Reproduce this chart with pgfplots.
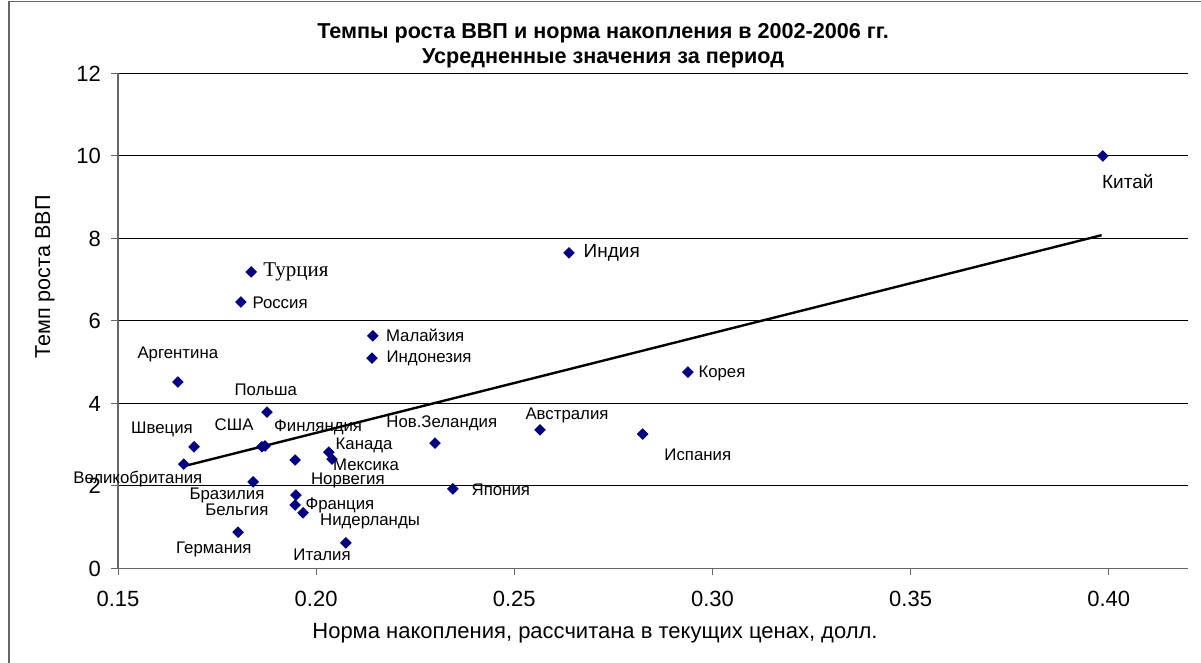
\documentclass[border=0pt]{standalone}
\usepackage{fontspec}
\setmainfont{Liberation Sans}
\newfontfamily\timesf{Liberation Serif}
\usepackage{pgfplots}
\pgfplotsset{compat=1.18}
\definecolor{navy}{HTML}{000080}
\begin{document}
\begin{tikzpicture}[x=1pt,y=1pt, lbl/.style={font=\fontsize{8.4}{10}\selectfont, inner sep=0pt}]
\useasboundingbox (0,0) rectangle (600.5,331.5);
\draw[gray!80!black, line width=0.6pt] (4.5,-5) -- (4.5,330.7) -- (610,330.7);
\node[font=\bfseries\fontsize{10.8}{13}\selectfont] at (301.5,315) {Темпы роста ВВП и норма накопления в 2002-2006 гг.};
\node[font=\bfseries\fontsize{10.8}{13}\selectfont] at (301.5,302.5) {Усредненные значения за период};
\node[font=\fontsize{11}{13}\selectfont] at (297.5,15) {Норма накопления, рассчитана в текущих ценах, долл.};
\node[font=\fontsize{10.8}{13}\selectfont, rotate=90] at (22.5,193) {Темп роста ВВП};
\begin{axis}[
  at={(59pt,47.25pt)}, anchor=south west,
  scale only axis, width=535pt, height=247.5pt,
  xmin=0.15, xmax=0.42, ymin=0, ymax=12,
  xtick={0.15,0.20,0.25,0.30,0.35,0.40},
  ytick={0,2,4,6,8,10,12},
  axis x line*=bottom, axis y line*=left,
  axis line style={gray!80!black, line width=0.6pt},
  ymajorgrids, major grid style={black, line width=0.5pt},
  tick align=outside, major tick length=3.5pt,
  tick style={gray!80!black, line width=0.5pt},
  x tick label style={/pgf/number format/.cd, fixed, fixed zerofill, precision=2, /tikz/.cd, font=\fontsize{11}{13}\selectfont, yshift=-4.5pt},
  y tick label style={font=\fontsize{11}{13}\selectfont, xshift=-1.5pt},
  /pgf/number format/assume math mode=true,
  clip=false,
]
\addplot[only marks, mark=square*, mark size=1.85pt, mark options={rotate=45, fill=navy, draw=navy}] coordinates {
(0.3985,10.00) (0.2638,7.65) (0.1836,7.19) (0.1810,6.46) (0.2143,5.64) (0.2141,5.10)
(0.1651,4.52) (0.2938,4.76) (0.1876,3.79) (0.2565,3.36) (0.2824,3.26) (0.2300,3.04)
(0.1692,2.95) (0.1863,2.95) (0.1871,2.97) (0.2032,2.82) (0.2040,2.65) (0.1947,2.63)
(0.1666,2.53) (0.1841,2.10) (0.1803,0.88) (0.2075,0.62) (0.2345,1.93) (0.1949,1.78)
(0.1947,1.54) (0.1967,1.35)
};
\addplot[black, line width=1.2pt] coordinates {(0.1666,2.48) (0.3982,8.08)};
\node[lbl, font=\fontsize{9.5}{11}\selectfont] at (0.4048,9.39) {Китай};
\node[lbl, font=\fontsize{9.5}{11}\selectfont] at (0.2746,7.65) {Индия};
\node[lbl, font=\timesf\fontsize{10.5}{12}\selectfont] at (0.1949,7.19) {Турция};
\node[lbl] at (0.1909,6.44) {Россия};
\node[lbl] at (0.2275,5.64) {Малайзия};
\node[lbl] at (0.2285,5.10) {Индонезия};
\node[lbl] at (0.1651,5.19) {Аргентина};
\node[lbl] at (0.3024,4.74) {Корея};
\node[lbl] at (0.1873,4.32) {Польша};
\node[lbl] at (0.2633,3.72) {Австралия};
\node[lbl] at (0.2963,2.75) {Испания};
\node[lbl] at (0.2317,3.52) {Нов.Зеландия};
\node[lbl] at (0.1611,3.36) {Швеция};
\node[lbl] at (0.1793,3.48) {США};
\node[lbl] at (0.2005,3.43) {Финляндия};
\node[lbl] at (0.2121,2.98) {Канада};
\node[lbl] at (0.2126,2.52) {Мексика};
\node[lbl] at (0.2080,2.13) {Норвегия};
\node[lbl] at (0.1550,2.16) {Великобритания};
\node[lbl] at (0.1775,1.78) {Бразилия};
\node[lbl] at (0.1800,1.42) {Бельгия};
\node[lbl] at (0.2060,1.54) {Франция};
\node[lbl] at (0.2136,1.13) {Нидерланды};
\node[lbl] at (0.1742,0.46) {Германия};
\node[lbl] at (0.2015,0.32) {Италия};
\node[lbl] at (0.2466,1.91) {Япония};
\end{axis}
\end{tikzpicture}
\end{document}
